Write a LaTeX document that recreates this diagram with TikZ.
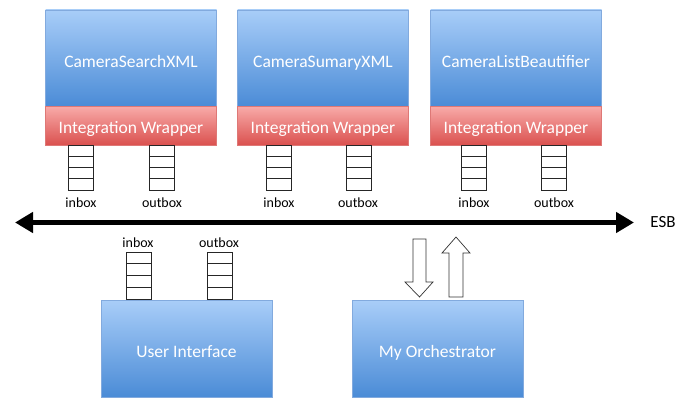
\documentclass[tikz,border=0pt]{standalone}
\usepackage{fontspec}
\setmainfont{Carlito}
\usetikzlibrary{arrows.meta}

\definecolor{bluetop}{RGB}{168,205,248}
\definecolor{bluebot}{RGB}{74,139,214}
\definecolor{blueline}{RGB}{130,170,222}
\definecolor{redtop}{RGB}{248,170,168}
\definecolor{redbot}{RGB}{218,80,78}
\definecolor{redline}{RGB}{222,120,118}

\tikzset{
  blockbox/.style={draw=blueline, line width=0.6pt, top color=bluetop, bottom color=bluebot,
    minimum width=171pt, minimum height=97pt, inner sep=0pt, text=white,
    text height=17pt, text depth=0pt, font=\fontsize{17.5}{20}\selectfont},
  wrapbox/.style={draw=redline, line width=0.6pt, top color=redtop, bottom color=redbot,
    minimum width=171pt, minimum height=39pt, inner sep=0pt, text=white,
    text height=15pt, text depth=0pt, font=\fontsize{17.5}{20}\selectfont},
  boxlabel/.style={inner sep=0pt, font=\fontsize{14}{16}\selectfont},
  queue/.style={draw=black!85, line width=0.8pt},
  bus/.style={line width=5pt, {Triangle[length=18pt,width=20pt]}-{Triangle[length=18pt,width=20pt]}},
  blockarrow/.style={draw=black!80, line width=0.7pt, fill=white}
}

\begin{document}
\begin{tikzpicture}[x=1pt,y=1pt,yscale=-1,xscale=1]
  \useasboundingbox (0,0) rectangle (683,404); %picture is 683 wide, 404 high

  %Services on the top row
  \node[blockbox] (searchxml) at (131,58.5) {CameraSearchXML};
  \node[wrapbox] (wrapA) at (131,126) {Integration Wrapper};
  \node[blockbox] (sumaryxml) at (323,58.5) {CameraSumaryXML};
  \node[wrapbox] (wrapB) at (323,126) {Integration Wrapper};
  \node[blockbox] (beautifier) at (516,58.5) {CameraListBeautifier};
  \node[wrapbox] (wrapC) at (516,126) {Integration Wrapper};

  %Queues under wrapper A
  \draw[queue] (68,145) rectangle (93,190) (68,156.25) -- (93,156.25) (68,167.5) -- (93,167.5) (68,178.75) -- (93,178.75);
  \draw[queue] (149,145) rectangle (174,190) (149,156.25) -- (174,156.25) (149,167.5) -- (174,167.5) (149,178.75) -- (174,178.75);
  %Queues under wrapper B
  \draw[queue] (266,145) rectangle (291,190) (266,156.25) -- (291,156.25) (266,167.5) -- (291,167.5) (266,178.75) -- (291,178.75);
  \draw[queue] (346,145) rectangle (371,190) (346,156.25) -- (371,156.25) (346,167.5) -- (371,167.5) (346,178.75) -- (371,178.75);
  %Queues under wrapper C
  \draw[queue] (461,145) rectangle (486,190) (461,156.25) -- (486,156.25) (461,167.5) -- (486,167.5) (461,178.75) -- (486,178.75);
  \draw[queue] (541,145) rectangle (566,190) (541,156.25) -- (566,156.25) (541,167.5) -- (566,167.5) (541,178.75) -- (566,178.75);

  %Queue labels, top row
  \node[boxlabel] (inA) at (81,203) {inbox};
  \node[boxlabel] (outA) at (162,203) {outbox};
  \node[boxlabel] (inB) at (279,203) {inbox};
  \node[boxlabel] (outB) at (358,203) {outbox};
  \node[boxlabel] (inC) at (474,203) {inbox};
  \node[boxlabel] (outC) at (554,203) {outbox};

  %Bus line
  \coordinate (esbL) at (15,222.5);
  \coordinate (esbR) at (634,222.5);
  \draw[bus] (esbL) -- (esbR);
  \node[inner sep=0pt, font=\fontsize{17}{20}\selectfont] (esb) at (663,222) {ESB};

  %User interface with its queues
  \node[blockbox] (ui) at (186.5,349) {User Interface};
  \node[boxlabel] (inUI) at (138,243) {inbox};
  \node[boxlabel] (outUI) at (219,243) {outbox};
  \draw[queue] (126,252) rectangle (151,299) (126,263.75) -- (151,263.75) (126,275.5) -- (151,275.5) (126,287.25) -- (151,287.25);
  \draw[queue] (207,252) rectangle (232,299) (207,263.75) -- (232,263.75) (207,275.5) -- (232,275.5) (207,287.25) -- (232,287.25);

  %Orchestrator
  \node[blockbox] (orch) at (437.5,349) {My Orchestrator};

  %Block arrows, down then up
  \draw[blockarrow] (413,239) -- (426,239) -- (426,282) -- (433,282) -- (419.5,297) -- (405,282) -- (413,282) -- cycle;
  \draw[blockarrow] (449,297) -- (463,297) -- (463,253) -- (470,253) -- (456,237) -- (442,253) -- (449,253) -- cycle;

\end{tikzpicture}
\end{document}
